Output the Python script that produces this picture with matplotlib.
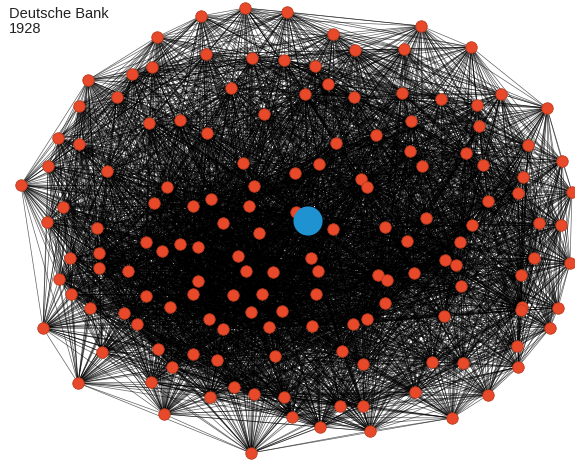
import numpy as np
import matplotlib
matplotlib.use("Agg")
import matplotlib.pyplot as plt
from matplotlib.collections import LineCollection

# node positions (pixel coords, y down)
node_x = [201, 245, 287, 333, 355, 157, 152, 132, 88, 117, 79, 149, 180, 58, 79,
          206, 252, 284, 315, 328, 354, 231, 305, 264, 207, 336, 376, 421, 404, 471,
          402, 441, 477, 501, 547, 411, 479, 528, 410, 466, 562,
          48, 21, 63, 47, 107, 167, 154, 193, 97, 146, 162, 180, 198, 70, 99, 99,
          128, 59, 71, 146, 193, 198, 170, 90, 243, 319, 295, 361, 367, 254, 211,
          249, 296, 333, 385, 223, 259, 238, 311, 246, 273, 318, 378, 387, 233,
          262, 316, 385, 251, 282, 422, 483, 523, 518, 572, 488, 426, 472, 539,
          561, 407, 460, 445, 456, 534, 570, 414, 521, 461, 522, 558,
          124, 137, 43, 102, 158, 193, 172, 78, 151, 164, 209, 223, 269, 312, 353,
          367, 217, 275, 342, 363, 234, 210, 254, 284, 292, 320, 340, 363, 370,
          251, 444, 521, 550, 517, 432, 463, 518, 415, 488, 452]
node_y = [16, 8, 12, 34, 50, 37, 67, 74, 80, 97, 106, 123, 120, 138, 144,
          54, 58, 60, 66, 84, 97, 88, 94, 114, 133, 143, 135, 26, 49, 47,
          93, 99, 105, 94, 108, 121, 126, 145, 151, 153, 161,
          166, 185, 207, 222, 171, 187, 203, 206, 228, 242, 251, 244, 247, 258, 253, 268,
          271, 279, 294, 296, 294, 281, 307, 308, 163, 164, 173, 179, 187, 186, 199,
          206, 212, 229, 227, 223, 233, 256, 258, 271, 272, 271, 275, 280, 295,
          294, 294, 303, 312, 311, 166, 165, 177, 193, 192, 201, 218, 225, 223,
          225, 241, 242, 260, 265, 258, 263, 273, 275, 286, 307, 308,
          313, 324, 328, 352, 349, 354, 367, 383, 382, 414, 319, 329, 327, 326, 324,
          319, 360, 356, 351, 364, 387, 397, 394, 397, 417, 427, 406, 406, 431,
          453, 316, 310, 328, 346, 362, 363, 367, 392, 395, 418]

hub_x = 308
hub_y = 221
title = "Deutsche Bank\n1928"

xs = np.array(node_x + [hub_x], dtype=float)
ys = np.array(node_y + [hub_y], dtype=float)

# link nodes that sit close to each other, hub links to all
segs = []
n = len(xs)
for i in range(n):
    for j in range(i + 1, n):
        d = np.hypot(xs[i] - xs[j], ys[i] - ys[j])
        if d < 235 or j == n - 1:
            segs.append([(xs[i], ys[i]), (xs[j], ys[j])])

fig = plt.figure(figsize=(5.75, 4.62), dpi=100)
ax = fig.add_axes([0, 0, 1, 1])
ax.set_xlim(0, 575)
ax.set_ylim(462, 0)
ax.axis("off")

lc = LineCollection(segs, colors="#000000", linewidths=0.5, alpha=0.62, zorder=1)
ax.add_collection(lc)

ax.scatter(node_x, node_y, s=68, c="#e8492a", edgecolors="#b83a1e",
           linewidths=0.6, zorder=3)
ax.scatter([hub_x], [hub_y], s=440, c="#1f93d2", edgecolors="none", zorder=4)

ax.text(9, 7, title, fontsize=10.5, family=["Liberation Sans", "DejaVu Sans"],
        color="#222222", va="top", ha="left", linespacing=1.05)

fig.savefig("out.png", dpi=100)
